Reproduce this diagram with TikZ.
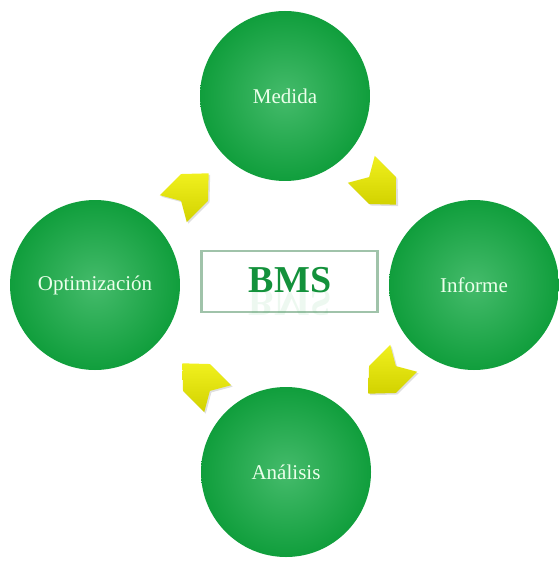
\documentclass[tikz,border=0pt]{standalone}
\usepackage{fontspec}
\setmainfont{Liberation Serif}
\usepackage{xcolor}
\usetikzlibrary{shadows}

\definecolor{bmsgreen}{RGB}{22,170,70}
\definecolor{bmsdark}{RGB}{16,158,60}
\definecolor{bmsframe}{RGB}{160,195,170}
\definecolor{chevyellow}{RGB}{240,240,30}
\definecolor{chevdark}{RGB}{210,210,0}

\tikzset{
  stage/.style={circle, minimum size=170pt, inner sep=0pt,
    inner color=bmsgreen!80!white, outer color=bmsdark,
    text=white!92!green, font=\fontsize{21}{24}\selectfont},
  chev/.style={top color=chevyellow, bottom color=chevdark,
    drop shadow={opacity=0.25, shadow xshift=1.5pt, shadow yshift=-1.5pt}}
}
% one block arrow, pointing along +x
\newcommand{\chevron}[3]{%
  \path[chev, shift={(#1,#2)}, rotate=#3]
    (-25,-19) -- (5,-19) -- (25,0) -- (5,19) -- (-25,19) -- (-14,0) -- cycle;}

\begin{document}
\begin{tikzpicture}[x=1pt, y=-1pt]
        \useasboundingbox (0,0) rectangle (558,561);

        \node[stage] (M) at (285,96) {Medida};
        \node[stage] (I) at (474,285) {Informe};
        \node[stage] (A) at (286,472) {Análisis};
        \node[stage] (O) at (95,285) {Optimización};

        \node[draw=bmsframe, line width=2.5pt, minimum width=176pt, minimum height=61pt] (box) at (289.5,281.5) {};
        \node[text=bmsgreen!85!black, font=\bfseries\fontsize{38}{40}\selectfont] (bms) at (290,280) {BMS};
        \node[text=bmsgreen, opacity=0.08, yscale=-1, font=\bfseries\fontsize{38}{40}\selectfont] (bmsr) at (290,303) {BMS};

        % arrows between the stages
        \chevron{191}{191}{45}
        \chevron{379}{187}{-45}
        \chevron{386}{376}{-135}
        \chevron{200}{381}{135}
      \end{tikzpicture}
\end{document}
